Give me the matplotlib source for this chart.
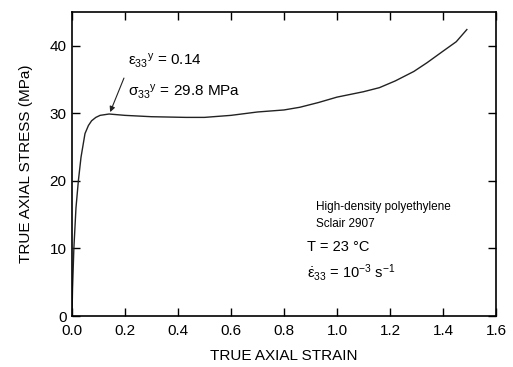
import matplotlib
matplotlib.use('Agg')
import matplotlib.pyplot as plt
import numpy as np

plt.rcParams['font.family'] = ['Liberation Sans', 'DejaVu Sans']
plt.rcParams['mathtext.default'] = 'regular'

# true axial strain / true axial stress (MPa)
strain = [0.0, 0.002, 0.007, 0.015, 0.024, 0.034, 0.049, 0.062, 0.074, 0.09, 0.106,
          0.14, 0.2, 0.3, 0.43, 0.5, 0.6, 0.7, 0.8, 0.86, 0.93, 1.0, 1.1, 1.16,
          1.22, 1.29, 1.34, 1.4, 1.45, 1.49]
stress = [0.0, 4.0, 10.0, 16.0, 20.0, 23.5, 27.0, 28.2, 28.9, 29.4, 29.7,
          29.9, 29.7, 29.5, 29.4, 29.4, 29.7, 30.2, 30.5, 30.9, 31.6, 32.4, 33.2, 33.8,
          34.8, 36.2, 37.5, 39.2, 40.6, 42.4]
yield_strain = 0.14
yield_stress = 29.8

fig = plt.figure(figsize=(5.13, 3.67), dpi=100)
ax = fig.add_axes([72 / 513, 1 - 316 / 367, 424 / 513, 304 / 367])

ax.plot(strain, stress, color='#222222', linewidth=1.0)

ax.set_xlim(0, 1.6)
ax.set_ylim(0, 45)
ax.set_xticks(np.arange(0, 1.61, 0.2))
ax.set_yticks([0, 10, 20, 30, 40])
ax.set_xticklabels([f'{v:.1f}' for v in np.arange(0, 1.61, 0.2)])
ax.tick_params(direction='in', top=True, right=True, length=6, width=1,
               labelsize=11)
ax.tick_params(axis='x', pad=6)
ax.tick_params(axis='y', pad=4)
for s in ax.spines.values():
    s.set_linewidth(1.2)

ax.set_xlabel('TRUE AXIAL STRAIN', fontsize=11, labelpad=8)
ax.set_ylabel('TRUE AXIAL STRESS (MPa)', fontsize=11, labelpad=12)

ax.annotate('', xy=(yield_strain, yield_stress), xytext=(0.2, 35.6),
            arrowprops=dict(arrowstyle='-|>', color='#222222', lw=0.8,
                            mutation_scale=8))
ax.text(0.21, 37.8, 'ε$_{33}$$^{y}$ = 0.14', fontsize=11, va='center')
ax.text(0.21, 33.2, 'σ$_{33}$$^{y}$ = 29.8 MPa', fontsize=11, va='center')

ax.text(0.92, 16.1, 'High-density polyethylene', fontsize=8.5, va='center')
ax.text(0.92, 13.6, 'Sclair 2907', fontsize=8.5, va='center')
ax.text(0.887, 10.2, 'T = 23 °C', fontsize=10.5, va='center')
ax.text(0.887, 6.5, r'$\dot{ε}_{33}$ = 10$^{-3}$ s$^{-1}$', fontsize=10.5, va='center')

fig.savefig('out.png', dpi=100)
